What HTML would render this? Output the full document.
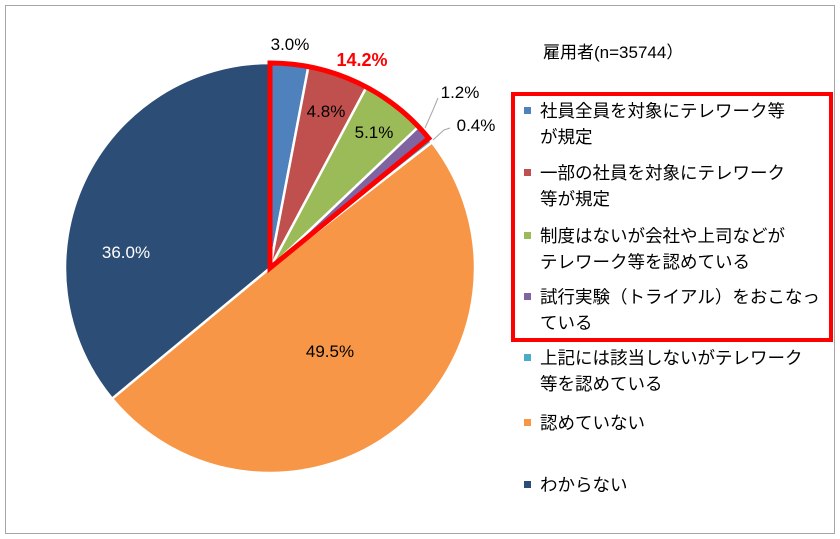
<!DOCTYPE html>
<html><head><meta charset="utf-8"><style>
body{margin:0;background:#fff;font-family:"Liberation Sans","Noto Sans CJK JP",sans-serif}
#wrap{position:relative;width:840px;height:539px;overflow:hidden}
</style></head><body>
<div id="wrap">
<svg id="svg" width="840" height="539">
<rect x="5.5" y="5.5" width="829" height="528" fill="#fff" stroke="#a6a6a6"/>
<text x="543" y="58" font-size="17" fill="#000">雇用者(n=35744）</text>
<rect x="513" y="94" width="318" height="246" fill="none" stroke="#ff0000" stroke-width="4"/>
</svg>
</div>
<script>
const categories=["社員全員を対象にテレワーク等|が規定","一部の社員を対象にテレワーク|等が規定","制度はないが会社や上司などが|テレワーク等を認めている","試行実験（トライアル）をおこなっ|ている","上記には該当しないがテレワーク|等を認めている","認めていない","わからない"];
const values=[3.0,4.8,5.1,1.2,0.4,49.5,36.0];
const colors=["#4f81bd","#c0504d","#9bbb59","#8064a2","#4bacc6","#f79646","#2c4d75"];
const highlightLabel="14.2%";
const NS="http://www.w3.org/2000/svg";
const svg=document.getElementById('svg');
const cx=270,cy=268,r=205;
const total=values.reduce((a,b)=>a+b,0);
function pt(a,rr){return [cx+rr*Math.sin(a),cy-rr*Math.cos(a)];}
function ang(v){return v/total*2*Math.PI;}
function mk(tag,attrs){const e=document.createElementNS(NS,tag);for(const k in attrs)e.setAttribute(k,attrs[k]);return e;}
let acc=0;const angs=[];
values.forEach((v,i)=>{
  const a0=ang(acc),a1=ang(acc+v);acc+=v;angs.push([a0,a1]);
  const p0=pt(a0,r),p1=pt(a1,r);
  const large=(a1-a0)>Math.PI?1:0;
  const p=mk('path',{d:`M${cx},${cy}L${p0[0]},${p0[1]}A${r},${r} 0 ${large} 1 ${p1[0]},${p1[1]}Z`,fill:colors[i],stroke:'#fff','stroke-width':2.5});
  
  
  svg.appendChild(p);
});
const hEnd=angs[3][1];
{const p0=pt(0,r),p1=pt(hEnd,r);
const h=mk('path',{d:`M${cx},${cy}L${p0[0]},${p0[1]}A${r},${r} 0 0 1 ${p1[0]},${p1[1]}Z`,fill:'none',stroke:'#ff0000','stroke-width':5,'stroke-linejoin':'miter'});


svg.appendChild(h);}
const labelPos=[[290,50],[326,117],[374,138],[460,98],[476,131],[330,357],[126,258]];
values.forEach((v,i)=>{
  const [x,y]=labelPos[i];
  const t=mk('text',{x:x,y:y,'font-size':17,'text-anchor':'middle',fill:i==6?'#fff':'#000'});
  t.textContent=v.toFixed(1)+'%';
  
  
  svg.appendChild(t);
});
[[3,[[425,128],[433,110],[438,98]]],[4,[[433,140],[444,130],[450,128]]]].forEach(([i,pts])=>{
  const l=mk('polyline',{points:pts.map(p=>p.join(',')).join(' '),fill:'none',stroke:'#a6a6a6','stroke-width':1});
  
  
  svg.appendChild(l);
});
const ht=mk('text',{x:362,y:66,'font-size':18,'font-weight':'bold','text-anchor':'middle',fill:'#ff0000'});
ht.textContent=highlightLabel;


svg.appendChild(ht);
const legY=[117,179,242,303,364,429,491];
categories.forEach((c,i)=>{
  const y=legY[i];
  const s=mk('rect',{x:524,y:y-10,width:7,height:7,fill:colors[i]});
  
  
  svg.appendChild(s);
  c.split('|').forEach((line,j)=>{
    const t=mk('text',{x:540,y:y+j*26,'font-size':17.5,fill:'#000'});
    t.textContent=line;
    
    
    svg.appendChild(t);
  });
});
</script>
</body></html>
